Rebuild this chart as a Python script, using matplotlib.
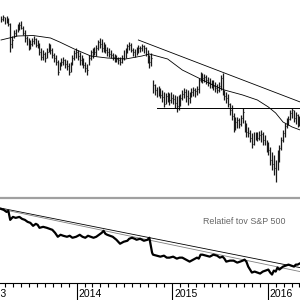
"""Gráfico semanal de barras con media móvil y fuerza relativa vs S&P 500.

Panel superior: barras OHLC semanales (unidades de precio arbitrarias), media móvil,
línea de tendencia bajista y soporte horizontal. Panel inferior: línea de fuerza
relativa con dos líneas de tendencia. Escribe out.png (300x300).
"""
from __future__ import annotations

import matplotlib

matplotlib.use("Agg")
import matplotlib.dates as mdates
import matplotlib.pyplot as plt
import matplotlib.transforms as mtransforms
import pandas as pd

# Semanas del gráfico (índice 0 = primera barra).
_START = "2013-03-17"
_N_WEEKS = 164
_X_LEFT = "2013-03-13"
_X_RIGHT = "2016-05-03"

high = [
    184, 185, 183, 184, 182, 177, 164, 170, 171, 176, 178, 179, 174, 170, 164, 162,
    160, 162, 164, 162, 160, 157, 152, 150, 148, 152, 157, 156, 152, 147, 145, 140,
    138, 142, 143, 141, 140, 137, 138, 145, 150, 152, 150, 148, 145, 142, 138, 136,
    145, 150, 152, 153, 155, 160, 162, 161, 158, 156, 153, 152, 150, 147, 146, 145,
    143, 143, 145, 150, 152, 156, 158, 157, 152, 151, 153, 155, 154, 156, 155, 153,
    150, 145, 147, 120, 116, 113, 114, 112, 110, 108, 107, 108, 107, 108, 106, 105,
    104, 105, 106, 110, 112, 111, 110, 108, 112, 113, 112, 114, 122, 128, 127, 126,
    125, 123, 122, 120, 120, 118, 116, 118, 125, 127, 110, 108, 106, 97, 95, 87,
    83, 83, 82, 85, 92, 80, 77, 73, 70, 67, 68, 68, 68, 69, 70, 68,
    65, 60, 58, 53, 48, 45, 40, 50, 55, 63, 70, 77, 82, 84, 90, 92,
    90, 88, 86, 84,
]
low = [
    178, 179, 176, 177, 174, 148, 152, 162, 164, 168, 170, 171, 165, 158, 155, 150,
    151, 154, 156, 153, 152, 145, 140, 140, 138, 142, 148, 146, 142, 138, 135, 125,
    130, 134, 135, 132, 130, 125, 128, 135, 140, 142, 140, 135, 135, 132, 128, 125,
    135, 140, 142, 145, 144, 150, 152, 148, 148, 147, 144, 143, 142, 140, 138, 138,
    136, 135, 137, 140, 142, 147, 150, 148, 144, 143, 145, 147, 148, 149, 147, 144,
    137, 132, 134, 107, 105, 103, 104, 102, 98, 93, 96, 98, 95, 97, 96, 92,
    88, 90, 94, 100, 102, 98, 95, 97, 103, 104, 103, 105, 107, 118, 117, 118,
    116, 114, 112, 112, 110, 108, 107, 108, 110, 105, 100, 97, 93, 85, 80, 68,
    70, 72, 72, 74, 77, 68, 63, 63, 58, 52, 55, 60, 59, 60, 58, 55,
    55, 48, 45, 35, 30, 25, 18, 30, 38, 50, 58, 63, 72, 75, 80, 82,
    78, 76, 73, 74,
]
close = [
    181, 183, 178, 182, 176, 156, 160, 167, 169, 173, 175, 172, 167, 162, 158, 154,
    156, 159, 161, 155, 156, 148, 143, 146, 142, 148, 154, 150, 145, 142, 138, 128,
    135, 138, 140, 136, 134, 128, 136, 142, 147, 148, 144, 140, 142, 135, 132, 130,
    142, 148, 150, 148, 152, 158, 156, 152, 155, 150, 148, 146, 145, 143, 142, 141,
    140, 138, 142, 147, 148, 154, 155, 150, 148, 146, 150, 152, 152, 154, 152, 147,
    140, 138, 142, 115, 110, 108, 112, 105, 103, 96, 104, 105, 100, 102, 101, 97,
    94, 100, 102, 106, 108, 104, 102, 105, 108, 110, 109, 111, 120, 124, 122, 123,
    120, 118, 116, 115, 114, 112, 110, 114, 122, 108, 104, 102, 96, 90, 84, 75,
    78, 80, 76, 82, 88, 73, 68, 67, 62, 56, 60, 64, 62, 65, 66, 60,
    58, 52, 50, 40, 36, 32, 28, 46, 52, 60, 67, 74, 79, 81, 87, 90,
    82, 85, 76, 80,
]

# Media móvil (vértices).
ma_weeks = [0, 9, 17.5, 27, 32, 40, 49, 58, 68, 77, 81, 91, 99, 109, 118, 122,
            132, 140, 146, 150, 154, 159, 163.4]
ma_values = [160, 164, 164.5, 162, 158, 151, 144, 142, 141, 144, 146, 141, 130, 121,
             113, 110, 105, 100, 93, 87, 78, 73, 70]

trend_weeks = [75, 163.4]
trend_values = [160, 98]
support_weeks = [85, 163.4]
support_value = 92

# Fuerza relativa vs S&P 500.
rs_weeks = [
    0, 1.5, 3, 4, 5, 6.5, 8, 10, 11.5, 13, 14.5, 16, 17.5, 19, 20, 21, 23, 25,
    26.5, 28, 29.5, 31, 32.5, 34, 36, 37.5, 39, 41, 43, 44.5, 46, 47.5, 49, 50.5,
    52, 53.5, 55, 56, 57, 58, 59.5, 61, 63, 65, 67, 69, 70, 71.5, 73, 74, 76, 78,
    80, 81, 82.5, 83, 85, 87, 89, 90.5, 92, 94, 96, 97.5, 99, 101, 103, 105, 107,
    108, 109, 110, 112, 114, 116, 118, 119.5, 121, 122, 123, 125, 127, 129, 130.6,
    132, 133, 134, 135, 136, 137, 138.5, 140, 141.5, 143, 144.5, 146, 147, 148,
    149, 150, 151, 152, 154, 155.5, 157, 158.5, 160, 161, 162, 163,
]
rs_values = [
    91, 90, 88, 89, 80, 83, 82, 83, 81, 80, 78, 77, 74, 76, 75, 72, 73, 72,
    71, 70, 67, 63, 65, 64, 63, 64, 62, 63, 65, 63, 62, 64, 63, 62,
    63, 65, 67, 69, 66, 65, 64, 63, 60, 56, 58, 59, 61, 62, 61, 60, 61, 59,
    60, 62, 47, 45, 44, 43, 44, 42, 42, 43, 41, 42, 42, 40, 38, 40, 42,
    41, 45, 45, 44, 43, 45, 44, 42, 43, 41, 38, 39, 39, 37, 38,
    39, 40, 38, 33, 30, 27, 28, 27, 26, 28, 29, 30, 27, 25,
    29, 28, 32, 30, 33, 34, 35, 34, 33, 35, 35, 36,
]
rs_trend_a = [92, 32]
rs_trend_b = [91, 28]

years = [2013, 2014, 2015, 2016]
rs_label = "Relatief tov S&P 500"


def _week_dates(weeks) -> pd.DatetimeIndex:
    start = pd.Timestamp(_START)
    return pd.DatetimeIndex([start + pd.Timedelta(days=7 * w) for w in weeks])


def _plot_price(ax) -> None:
    dates = _week_dates(range(_N_WEEKS))
    ax.vlines(dates, low, high, color="#1a1a1a", linewidth=0.9)
    ax.hlines(close, dates, dates + pd.Timedelta(days=3), color="#1a1a1a", linewidth=0.8)
    ax.plot(_week_dates(ma_weeks), ma_values, color="black", linewidth=0.6)
    ax.plot(_week_dates(trend_weeks), trend_values, color="black", linewidth=0.6)
    ax.plot(_week_dates(support_weeks), [support_value] * 2, color="black", linewidth=0.7)
    ax.set_ylim(3, 200)


def _plot_relative(ax) -> None:
    edges = pd.DatetimeIndex([_X_LEFT, _X_RIGHT])
    ax.plot(edges, rs_trend_a, color="black", linewidth=0.6)
    ax.plot(edges, rs_trend_b, color="#808080", linewidth=0.6)
    ax.plot(_week_dates(rs_weeks), rs_values, color="black", linewidth=1.6)
    ax.set_ylim(17, 102)
    ax.text(0.813, 0.72, rs_label, transform=ax.transAxes, ha="center", va="center",
            fontsize=6.4, color="#666666",
            family=["Liberation Sans Narrow", "Liberation Sans", "DejaVu Sans"])


def _style_axes(ax_top, ax_bot) -> None:
    for ax in (ax_top, ax_bot):
        ax.set_xlim(pd.Timestamp(_X_LEFT), pd.Timestamp(_X_RIGHT))
        ax.set_yticks([])
        for side in ("left", "right", "top", "bottom"):
            ax.spines[side].set_visible(False)
    ax_top.set_xticks([])

    ax_bot.spines["top"].set_visible(True)
    ax_bot.spines["top"].set_color("#a0a0a0")
    ax_bot.spines["top"].set_linewidth(1.6)
    ax_bot.spines["bottom"].set_visible(True)
    ax_bot.spines["bottom"].set_linewidth(0.8)

    ax_bot.xaxis.set_major_locator(mdates.YearLocator())
    ax_bot.xaxis.set_minor_locator(mdates.MonthLocator())
    ax_bot.tick_params(axis="x", which="major", length=13, width=0.8, labelbottom=False)
    ax_bot.tick_params(axis="x", which="minor", length=3.2, width=0.8)

    offset = mtransforms.ScaledTranslation(2 / 100, 0, ax_bot.figure.dpi_scale_trans)
    trans = mtransforms.blended_transform_factory(ax_bot.transData, ax_bot.transAxes)
    for year in years:
        ax_bot.text(pd.Timestamp(f"{year}-01-01"), -0.075, str(year),
                    transform=trans + offset, ha="left", va="top", fontsize=7.5,
                    family=["Liberation Sans", "DejaVu Sans"], clip_on=False)


def main() -> None:
    fig = plt.figure(figsize=(3, 3), dpi=100)
    ax_top = fig.add_axes([0, 1 - 197 / 300, 1, 197 / 300])
    ax_bot = fig.add_axes([0, 17.5 / 300, 1, (282.5 - 198) / 300])
    _plot_price(ax_top)
    _plot_relative(ax_bot)
    _style_axes(ax_top, ax_bot)
    fig.savefig("out.png", dpi=100)
    plt.close(fig)


if __name__ == "__main__":
    main()
